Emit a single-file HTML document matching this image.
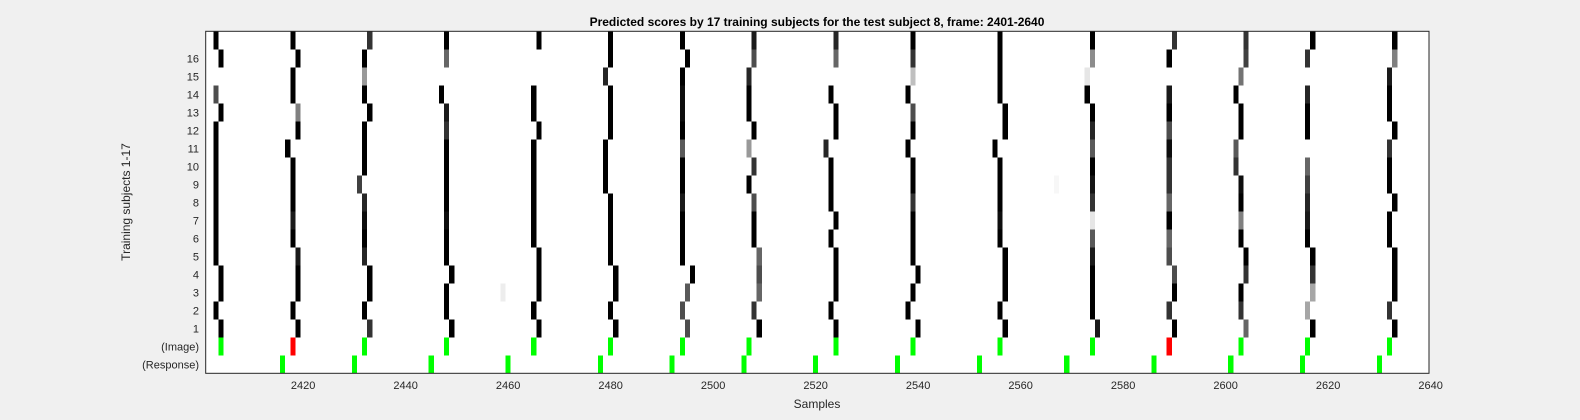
<!DOCTYPE html>
<html><head><meta charset="utf-8"><style>
html,body{margin:0;padding:0;background:#f0f0f0;}
svg{display:block;font-family:"Liberation Sans",Arial,sans-serif;}
</style></head><body>
<svg id="chart" width="1580" height="420" xmlns="http://www.w3.org/2000/svg">
<rect width="1580" height="420" fill="#f0f0f0"/>
<text x="817" y="26" text-anchor="middle" font-size="12" font-weight="bold" fill="#000">Predicted scores by 17 training subjects for the test subject 8, frame: 2401-2640</text>
<rect x="205.7" y="31.3" width="1223.3" height="342" fill="#fff"/>
<g id="cells"></g>
<rect x="205.7" y="31.3" width="1223.3" height="342" fill="none" stroke="#262626" stroke-width="1"/>
<g id="xticks"></g>
<g id="yticks"></g>
<text x="817" y="408" text-anchor="middle" font-size="12" fill="#262626">Samples</text>
<text x="0" y="0" transform="translate(130,202) rotate(-90)" text-anchor="middle" font-size="12" fill="#262626">Training subjects 1-17</text>
</svg>
<script>
// samples per beat, rows 1..17 (null = blank)
const beatSamples = [
 [2404,2403,2404,2404,2403,2403,2403,2403,2403,2403,2403,2403,2404,2403,null,2404,2403],
 [2419,2418,2419,2419,2419,2418,2418,2418,2418,2418,2417,2419,2419,2418,2418,2419,2418],
 [2433,2432,2433,2433,2432,2432,2432,2432,2431,2432,2432,2432,2433,2432,2432,2432,2433],
 [2449,2448,2448,2449,2448,2448,2448,2448,2448,2448,2448,2448,2448,2447,null,2448,2448],
 [2466,2465,2466,2466,2466,2465,2465,2465,2465,2465,2465,2466,2465,2465,null,null,2466],
 [2481,2480,2481,2481,2480,2480,2480,2480,2479,2479,2479,2480,2480,2480,2479,2480,2480],
 [2495,2494,2495,2496,2494,2494,2494,2494,2494,2494,2494,2494,2494,2494,2494,2495,2494],
 [2509,2508,2509,2509,2509,2508,2508,2508,2507,2508,2507,2508,2507,2507,2507,2508,2508],
 [2524,2523,2524,2524,2524,2523,2524,2523,2523,2523,2522,2524,2524,2523,null,2524,2524],
 [2540,2538,2539,2540,2539,2539,2539,2539,2539,2539,2538,2539,2539,2538,2539,2539,2539],
 [2557,2556,2557,2557,2557,2556,2556,2556,2556,2556,2555,2557,2557,2556,2556,2556,2556],
 [2575,2574,2574,2574,2574,2574,2574,2574,2574,2574,2574,2574,2574,2573,2573,2574,2574],
 [2590,2589,2590,2590,2589,2589,2589,2589,2589,2589,2589,2589,2589,2589,null,2589,2590],
 [2604,2603,2603,2604,2604,2603,2603,2603,2603,2602,2602,2603,2603,2602,2603,2604,2604],
 [2617,2616,2617,2617,2617,2616,2616,2616,2616,2616,null,2616,2616,2616,null,2616,2617],
 [2633,2632,2633,2633,2633,2632,2632,2633,2632,2632,2632,2633,2632,2632,2632,2633,2633]
];
// brightness per beat cell (0 = black)
const beatLevels = [
 [0,0,0,0,0,0,0,0,0,0,0,0,0,.3,0,0,0],
 [0,0,0,0,.1,0,.1,0,0,0,0,0,.5,0,0,0,0],
 [.2,0,0,0,.15,0,.05,.15,.25,0,0,0,0,0,.6,0,.2],
 [0,0,0,0,0,0,.05,0,0,0,0,.2,.1,0,0,.4,0],
 [0,0,0,0,0,0,0,0,0,0,0,0,0,0,0,0,0],
 [0,0,0,0,0,0,0,0,0,0,0,0,0,0,.15,0,0],
 [.3,.3,.35,0,0,0,0,.1,0,0,.35,0,.05,.05,0,0,0],
 [0,.2,.4,.3,.4,0,0,.3,0,.2,.6,0,0,0,.15,.3,.1],
 [0,0,0,0,0,0,0,0,0,0,.15,0,0,0,0,.4,.15],
 [0,0,0,0,0,0,0,.2,0,0,0,0,.3,0,.75,.2,0],
 [0,0,0,0,0,0,.05,0,0,0,0,0,0,0,0,0,0],
 [.1,0,0,0,.1,.35,.9,.2,.08,0,.35,.15,0,0,.9,.55,0],
 [0,.2,0,.3,.3,.4,0,.4,.2,.2,.05,.3,0,.1,0,0,.2],
 [.4,.2,0,.2,0,0,.5,0,.05,.2,.35,0,0,0,.45,.25,.2],
 [0,.65,.65,.2,0,0,.1,.15,.25,.4,0,0,0,.15,0,.2,0],
 [0,.2,0,0,0,0,0,0,0,0,.2,0,0,0,.1,.5,0]
];
const strayRows = [3, 9];
const straySamples = [2459, 2567];
const strayLevels = [0.93, 0.97];
const imageSamples = [2404,2418,2432,2448,2465,2480,2494,2507,2524,2539,2556,2574,2589,2603,2616,2632];
const imageColors = ['g','r','g','g','g','g','g','g','g','g','g','g','r','g','g','g'];
const responseSamples = [2416,2430,2445,2460,2478,2492,2506,2520,2536,2552,2569,2586,2601,2615,2630];
const xTickValues = [2420,2440,2460,2480,2500,2520,2540,2560,2580,2600,2620,2640];
const yTickLabels = ['1','2','3','4','5','6','7','8','9','10','11','12','13','14','15','16'];

const NS = 'http://www.w3.org/2000/svg';
const X0 = 205.7, PX = 5.125, Y0 = 31.3, RH = 18;
function xScale(s){ return X0 + (s - 2401) * PX; }
function rowTop(idx){ return Y0 + idx * RH; } // idx 0 = top
function subjRowIdx(r){ return 17 - r; }
function gray(v){ const c = Math.round(v*255); return 'rgb('+c+','+c+','+c+')'; }
const cells = document.getElementById('cells');
function cell(s, idx, fill, name){
  const r = document.createElementNS(NS,'rect');
  r.setAttribute('x', xScale(s - 0.5).toFixed(2));
  r.setAttribute('y', rowTop(idx).toFixed(2));
  r.setAttribute('width', PX.toFixed(3));
  r.setAttribute('height', RH);
  r.setAttribute('fill', fill);
  r.setAttribute('shape-rendering','crispEdges');
  
  
  cells.appendChild(r);
}
beatSamples.forEach((arr, b) => {
  arr.forEach((s, i) => {
    if (s === null) return;
    cell(s, subjRowIdx(i+1), gray(beatLevels[b][i]), 'score-cell');
  });
});
strayRows.forEach((r, i) => cell(straySamples[i], subjRowIdx(r), gray(strayLevels[i]), 'score-cell'));
imageSamples.forEach((s, i) => cell(s, 17, imageColors[i]==='r' ? '#ff0000' : '#00ff00', 'image-marker'));
responseSamples.forEach(s => cell(s, 18, '#00ff00', 'response-marker'));

const xt = document.getElementById('xticks');
xTickValues.forEach(v => {
  const t = document.createElementNS(NS,'text');
  t.setAttribute('x', xScale(v).toFixed(1));
  t.setAttribute('y', 389);
  t.setAttribute('text-anchor','middle');
  t.setAttribute('font-size','11');
  t.setAttribute('fill','#262626');
  
  
  t.textContent = v;
  xt.appendChild(t);
});
const yt = document.getElementById('yticks');
function ylabel(txt, idx){
  const t = document.createElementNS(NS,'text');
  t.setAttribute('x', 199);
  t.setAttribute('y', (rowTop(idx) + RH/2 + 4).toFixed(1));
  t.setAttribute('text-anchor','end');
  t.setAttribute('font-size','11');
  t.setAttribute('fill','#262626');
  
  
  t.textContent = txt;
  yt.appendChild(t);
}
yTickLabels.forEach((l, i) => ylabel(l, subjRowIdx(i+1)));
ylabel('(Image)', 17);
ylabel('(Response)', 18);
</script>
</body></html>
